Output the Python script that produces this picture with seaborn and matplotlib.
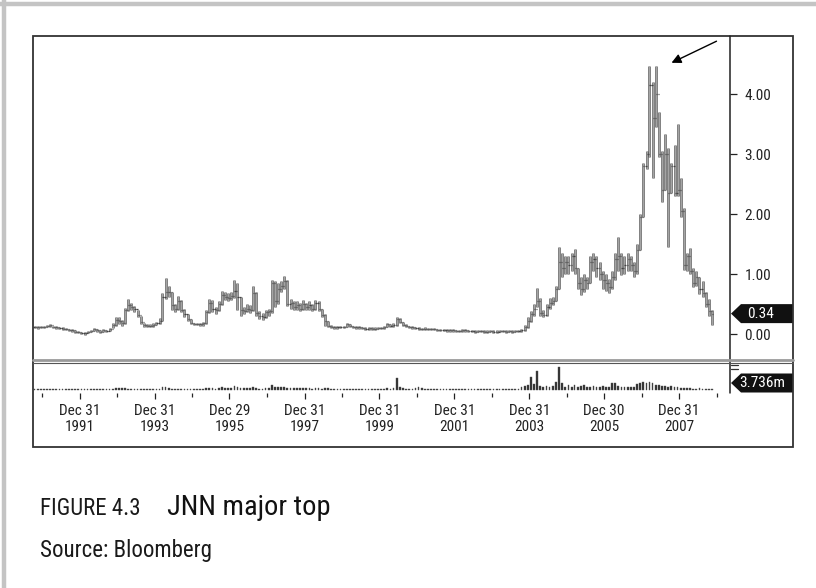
import numpy as np
import pandas as pd
import seaborn as sns
import matplotlib
matplotlib.use("Agg")
import matplotlib.pyplot as plt
import matplotlib.dates as mdates
import matplotlib.transforms as mtransforms
from matplotlib import font_manager
from matplotlib.patches import Rectangle, Polygon
from matplotlib.lines import Line2D

# monthly bars, Oct 1990 .. Nov 2008 (one row per year)
price_high = [
    0.14, 0.13, 0.14,                                                  # 1990
    0.14, 0.15, 0.17, 0.14, 0.13, 0.12, 0.11, 0.10, 0.09, 0.08, 0.06, 0.05,
    0.04, 0.03, 0.05, 0.07, 0.10, 0.08, 0.06, 0.08, 0.07, 0.10, 0.18, 0.28,
    0.28, 0.24, 0.44, 0.58, 0.52, 0.46, 0.40, 0.30, 0.18, 0.16, 0.16, 0.18,
    0.20, 0.26, 0.68, 0.93, 0.80, 0.70, 0.50, 0.63, 0.56, 0.42, 0.34, 0.25,
    0.19, 0.19, 0.18, 0.20, 0.40, 0.58, 0.56, 0.45, 0.55, 0.72, 0.70, 0.68,
    0.70, 0.90, 0.85, 0.62, 0.45, 0.50, 0.48, 0.80, 0.70, 0.38, 0.35, 0.40,
    0.42, 0.90, 0.88, 0.85, 0.88, 0.97, 0.90, 0.58, 0.55, 0.55, 0.52, 0.56,
    0.52, 0.55, 0.50, 0.56, 0.55, 0.42, 0.34, 0.22, 0.15, 0.14, 0.13, 0.14,
    0.14, 0.19, 0.17, 0.14, 0.13, 0.13, 0.12, 0.11, 0.12, 0.11, 0.11, 0.12,
    0.12, 0.14, 0.19, 0.17, 0.18, 0.28, 0.27, 0.20, 0.16, 0.14, 0.13, 0.12,
    0.11, 0.10, 0.11, 0.10, 0.10, 0.10, 0.09, 0.09, 0.09, 0.08, 0.08, 0.08,
    0.07, 0.07, 0.08, 0.08, 0.07, 0.07, 0.06, 0.07, 0.07, 0.06, 0.06, 0.07,
    0.06, 0.06, 0.06, 0.07, 0.06, 0.06, 0.06, 0.07, 0.07, 0.08, 0.15, 0.28,
    0.38, 0.50, 0.77, 0.60, 0.40, 0.50, 0.60, 0.62, 0.80, 1.45, 1.35, 1.30,
    1.30, 1.35, 1.42, 1.10, 0.95, 1.00, 0.95, 1.30, 1.35, 1.30, 1.20, 1.05,
    1.00, 0.92, 1.05, 1.35, 1.62, 1.35, 1.30, 1.35, 1.30, 1.20, 1.50, 2.00,
    2.85, 3.05, 4.47, 4.20, 4.47, 3.70, 3.05, 3.33, 3.10, 2.85, 3.15, 3.50,
    2.60, 2.10, 1.35, 1.43, 1.10, 1.05, 0.95, 0.88, 0.70, 0.58, 0.40,  # 2008
]
price_low = [
    0.10, 0.09, 0.10,
    0.10, 0.11, 0.12, 0.10, 0.09, 0.08, 0.07, 0.06, 0.05, 0.04, 0.02, 0.01,
    0.00, -0.01, 0.01, 0.03, 0.05, 0.04, 0.02, 0.04, 0.03, 0.05, 0.10, 0.14,
    0.16, 0.14, 0.17, 0.38, 0.40, 0.36, 0.28, 0.16, 0.12, 0.11, 0.11, 0.12,
    0.15, 0.17, 0.22, 0.58, 0.62, 0.40, 0.36, 0.40, 0.36, 0.28, 0.22, 0.16,
    0.15, 0.15, 0.14, 0.14, 0.17, 0.35, 0.36, 0.33, 0.38, 0.48, 0.56, 0.55,
    0.56, 0.60, 0.40, 0.30, 0.33, 0.36, 0.35, 0.38, 0.30, 0.25, 0.24, 0.26,
    0.30, 0.35, 0.45, 0.50, 0.70, 0.75, 0.46, 0.42, 0.40, 0.40, 0.38, 0.40,
    0.40, 0.40, 0.38, 0.40, 0.38, 0.28, 0.14, 0.11, 0.10, 0.09, 0.09, 0.10,
    0.10, 0.11, 0.12, 0.10, 0.09, 0.09, 0.08, 0.07, 0.07, 0.06, 0.07, 0.08,
    0.08, 0.09, 0.12, 0.12, 0.12, 0.14, 0.18, 0.14, 0.12, 0.10, 0.09, 0.08,
    0.07, 0.06, 0.07, 0.06, 0.06, 0.06, 0.05, 0.05, 0.05, 0.04, 0.04, 0.04,
    0.03, 0.03, 0.04, 0.04, 0.03, 0.03, 0.02, 0.03, 0.03, 0.02, 0.02, 0.03,
    0.02, 0.02, 0.03, 0.03, 0.02, 0.03, 0.02, 0.03, 0.03, 0.04, 0.05, 0.10,
    0.20, 0.30, 0.45, 0.30, 0.28, 0.30, 0.42, 0.48, 0.55, 0.75, 0.95, 1.00,
    1.00, 1.05, 1.00, 0.75, 0.65, 0.70, 0.75, 0.85, 1.05, 0.95, 0.90, 0.75,
    0.72, 0.68, 0.75, 0.90, 1.05, 0.98, 1.00, 1.05, 1.05, 0.95, 1.00, 1.40,
    1.95, 2.75, 2.95, 2.60, 3.45, 2.95, 2.20, 2.40, 1.45, 2.35, 2.30, 2.30,
    1.95, 1.07, 1.05, 1.00, 0.78, 0.80, 0.67, 0.62, 0.45, 0.30, 0.15,
]
price_close = [
    0.12, 0.11, 0.12,
    0.12, 0.13, 0.15, 0.12, 0.11, 0.10, 0.09, 0.08, 0.07, 0.06, 0.04, 0.03,
    0.02, 0.01, 0.03, 0.05, 0.08, 0.06, 0.04, 0.06, 0.05, 0.08, 0.15, 0.24,
    0.22, 0.18, 0.40, 0.48, 0.45, 0.42, 0.32, 0.20, 0.15, 0.14, 0.13, 0.15,
    0.18, 0.22, 0.62, 0.70, 0.70, 0.48, 0.42, 0.55, 0.40, 0.33, 0.25, 0.18,
    0.17, 0.17, 0.16, 0.18, 0.36, 0.52, 0.42, 0.40, 0.50, 0.65, 0.62, 0.60,
    0.63, 0.72, 0.62, 0.40, 0.38, 0.42, 0.40, 0.68, 0.35, 0.30, 0.28, 0.36,
    0.38, 0.85, 0.55, 0.75, 0.80, 0.88, 0.50, 0.52, 0.45, 0.48, 0.42, 0.50,
    0.45, 0.48, 0.42, 0.52, 0.42, 0.32, 0.22, 0.13, 0.12, 0.11, 0.11, 0.12,
    0.12, 0.16, 0.14, 0.12, 0.11, 0.11, 0.10, 0.09, 0.10, 0.08, 0.09, 0.10,
    0.10, 0.12, 0.16, 0.14, 0.15, 0.25, 0.20, 0.15, 0.14, 0.12, 0.11, 0.10,
    0.09, 0.08, 0.09, 0.08, 0.08, 0.08, 0.07, 0.07, 0.07, 0.06, 0.06, 0.06,
    0.05, 0.05, 0.06, 0.06, 0.05, 0.05, 0.04, 0.05, 0.05, 0.04, 0.04, 0.05,
    0.04, 0.04, 0.05, 0.05, 0.04, 0.05, 0.04, 0.05, 0.05, 0.06, 0.12, 0.22,
    0.33, 0.42, 0.55, 0.35, 0.32, 0.45, 0.52, 0.55, 0.75, 1.20, 1.10, 1.20,
    1.15, 1.30, 1.10, 0.85, 0.75, 0.90, 0.85, 1.20, 1.25, 1.10, 1.00, 0.90,
    0.85, 0.78, 0.95, 1.25, 1.30, 1.10, 1.15, 1.25, 1.15, 1.05, 1.40, 1.95,
    2.80, 3.00, 4.15, 3.60, 4.00, 3.00, 2.40, 3.00, 2.35, 2.80, 2.35, 2.40,
    2.05, 1.15, 1.30, 1.05, 0.85, 0.95, 0.75, 0.68, 0.50, 0.38, 0.34,
]
volume_m = [
    0.4, 0.5, 0.4,
    0.5, 0.6, 0.4, 0.5, 0.7, 0.5, 0.4, 0.5, 0.6, 0.5, 0.4, 0.5,
    0.5, 0.4, 0.6, 0.5, 0.5, 0.6, 0.4, 0.5, 0.5, 0.6, 0.8, 1.0,
    1.0, 0.9, 1.2, 0.8, 0.7, 0.6, 0.6, 0.5, 0.5, 0.6, 0.5, 0.6,
    0.6, 0.8, 1.4, 1.6, 1.0, 0.8, 0.7, 0.7, 0.6, 0.6, 0.5, 0.5,
    0.5, 0.5, 0.5, 0.6, 1.0, 1.3, 0.9, 0.8, 1.2, 1.4, 1.1, 1.0,
    1.2, 2.2, 1.5, 1.0, 0.9, 1.0, 1.1, 1.8, 1.0, 0.8, 0.8, 0.9,
    1.0, 2.5, 1.8, 1.6, 1.5, 1.8, 1.2, 1.0, 1.0, 1.1, 0.9, 1.0,
    0.9, 1.0, 0.8, 1.1, 0.9, 0.8, 1.0, 0.9, 0.6, 0.5, 0.5, 0.5,
    0.5, 0.8, 0.6, 0.5, 0.5, 0.4, 0.5, 0.4, 0.5, 0.4, 0.4, 0.5,
    0.5, 0.6, 1.0, 0.8, 1.2, 6.5, 1.5, 1.0, 0.8, 0.7, 0.8, 0.9,
    1.8, 1.2, 0.8, 0.7, 0.6, 0.8, 0.6, 0.5, 0.7, 0.6, 0.5, 0.6,
    0.5, 0.6, 0.5, 0.6, 0.5, 0.7, 0.5, 0.6, 0.5, 0.5, 0.6, 0.5,
    0.5, 0.4, 0.5, 0.6, 0.5, 0.5, 0.4, 0.6, 0.5, 1.5, 2.0, 2.8,
    6.9, 3.2, 10.1, 2.0, 1.6, 2.0, 1.8, 2.2, 4.3, 12.3, 3.7, 1.8,
    2.5, 1.8, 2.7, 1.5, 2.0, 2.6, 1.4, 1.8, 2.4, 1.6, 1.4, 2.0,
    1.5, 1.8, 3.5, 3.8, 2.0, 1.6, 1.5, 1.8, 1.4, 1.7, 3.2, 4.0,
    4.3, 3.6, 4.2, 3.8, 2.6, 2.8, 2.0, 2.4, 1.8, 2.2, 1.6, 1.5,
    1.2, 1.0, 0.9, 1.0, 0.8, 0.7, 1.0, 0.6, 0.8, 0.7, 0.6,
]
first_month = "1990-10-01"
last_price = 0.34
last_volume = 3.736

tick_dates = ["1991-12-31", "1993-12-31", "1995-12-29", "1997-12-31", "1999-12-31",
              "2001-12-31", "2003-12-31", "2005-12-30", "2007-12-31"]
tick_labels = ["Dec 31\n1991", "Dec 31\n1993", "Dec 29\n1995", "Dec 31\n1997", "Dec 31\n1999",
               "Dec 31\n2001", "Dec 31\n2003", "Dec 30\n2005", "Dec 31\n2007"]
minor_dates = ["1990-12-31", "1992-12-31", "1994-12-31", "1996-12-31", "1998-12-31",
               "2000-12-31", "2002-12-31", "2004-12-31", "2006-12-31", "2008-12-31"]
price_ticks = [0, 1, 2, 3, 4]

sns.set_theme(style="white")

# condensed face if one is installed, otherwise shrink Liberation Sans
names = {f.name for f in font_manager.fontManager.ttflist}
condensed = [n for n in ["Roboto Condensed", "Open Sans Condensed", "Liberation Sans Narrow",
                         "Arial Narrow"] if n in names]
if condensed:
    font = condensed[0]
    k = 1.0
else:
    font = "Liberation Sans"
    k = 0.84
plt.rcParams["font.family"] = [font, "DejaVu Sans"]

W, H = 816, 588
def fx(x):
    return x / W
def fy(y):
    return 1 - y / H

df = pd.DataFrame({"high": price_high, "low": price_low, "close": price_close, "vol": volume_m})
df["date"] = pd.date_range(first_month, periods=len(df), freq="MS") + pd.Timedelta(days=15)
df["open"] = df["close"].shift(1).fillna(df["close"].iloc[0])
xn = mdates.date2num(df["date"])

fig = plt.figure(figsize=(8.16, 5.88), dpi=100)
fig.patch.set_facecolor("white")
ax = fig.add_axes([fx(33), fy(360), fx(730) - fx(33), fy(36) - fy(360)])
axv = fig.add_axes([fx(33), fy(393), fx(730) - fx(33), fy(362) - fy(393)])

# high-low bars: thin dark outline with a lighter core, like the printed chart
ax.vlines(xn, df["low"], df["high"], color="#5a5a5a", lw=1.8)
ax.vlines(xn, df["low"], df["high"], color="#b4b4b4", lw=0.6)
ax.hlines(df["close"], xn, xn + 11, color="#444444", lw=0.9)
ax.hlines(df["open"], xn - 11, xn, color="#444444", lw=0.9)

# width is relative to the shortest month spacing (28 days)
sns.barplot(x=xn, y=df["vol"], ax=axv, native_scale=True, width=0.6,
            color="#2e2e2e", edgecolor="#555555", linewidth=0.3, saturation=1)

xlim = (mdates.date2num(pd.Timestamp("1990-10-01")), mdates.date2num(pd.Timestamp("2009-05-10")))
ax.set_xlim(xlim)
ax.set_ylim(-0.433, 4.967)
axv.set_ylim(-1.6, 14.94)
axv.set_xlabel("")
axv.set_ylabel("")

for a in (ax, axv):
    for s in a.spines.values():
        s.set_visible(False)
    a.set_facecolor("white")

ax.yaxis.tick_right()
ax.set_yticks(price_ticks)
ax.set_yticklabels([f"{v:.2f}" for v in price_ticks])
ax.tick_params(axis="y", direction="out", length=5, width=0.9, pad=5.5, labelsize=11 * k,
               colors="#222222", right=True, left=False)
ax.tick_params(axis="x", bottom=False, labelbottom=False)

axv.set_yticks([])
axv.set_xticks(mdates.date2num(pd.to_datetime(tick_dates)))
axv.set_xticklabels(tick_labels, linespacing=1.15)
axv.set_xticks(mdates.date2num(pd.to_datetime(minor_dates)), minor=True)
axv.set_xlim(xlim)
axv.tick_params(axis="x", which="major", direction="out", length=4.5, width=0.9, pad=3.5,
                labelsize=11 * k, colors="#222222", bottom=True)
axv.tick_params(axis="x", which="minor", direction="out", length=3, width=0.9, bottom=True)

# frame and panel dividers
fig.add_artist(Rectangle((fx(33), fy(447)), fx(793) - fx(33), fy(36) - fy(447),
                         transform=fig.transFigure, fill=False, lw=1.3, ec="#333333"))
fig.add_artist(Line2D([fx(730), fx(730)], [fy(36), fy(393)], transform=fig.transFigure,
                      color="#222222", lw=1.1))
fig.add_artist(Line2D([fx(33), fx(793)], [fy(359.5), fy(359.5)], transform=fig.transFigure,
                      color="#9a9a9a", lw=2.0))
fig.add_artist(Line2D([fx(33), fx(793)], [fy(362.5), fy(362.5)], transform=fig.transFigure,
                      color="#555555", lw=0.8))
for yy in (365, 369):
    fig.add_artist(Line2D([fx(731), fx(738)], [fy(yy), fy(yy)], transform=fig.transFigure,
                          color="#333333", lw=0.9))
# page border
fig.add_artist(Line2D([0, 1], [fy(3.5), fy(3.5)], transform=fig.transFigure, color="#c4c4c4", lw=3.2))
fig.add_artist(Line2D([fx(4), fx(4)], [0, 1], transform=fig.transFigure, color="#c4c4c4", lw=3.2))

# last value tags (drawn inside the axes so the text sits on top)
tp = mtransforms.blended_transform_factory(fig.transFigure, ax.transData)
hp = 9.5 / 60
ax.add_patch(Polygon([(fx(731), last_price), (fx(741), last_price + hp), (fx(793), last_price + hp),
                      (fx(793), last_price - hp), (fx(741), last_price - hp)],
                     closed=True, transform=tp, fc="#111111", ec="none", clip_on=False, zorder=5))
ax.text(fx(761), last_price, f"{last_price:.2f}", transform=tp, color="white", fontsize=11 * k,
        ha="center", va="center", clip_on=False, zorder=6)

tv = mtransforms.blended_transform_factory(fig.transFigure, axv.transData)
hv = 9.5 / 1.874
axv.add_patch(Polygon([(fx(731), last_volume), (fx(741), last_volume + hv), (fx(793), last_volume + hv),
                       (fx(793), last_volume - hv), (fx(741), last_volume - hv)],
                      closed=True, transform=tv, fc="#111111", ec="none", clip_on=False, zorder=5))
axv.text(fx(762), last_volume, f"{last_volume:.3f}m", transform=tv, color="white", fontsize=11 * k,
         ha="center", va="center", clip_on=False, zorder=6)

# arrow pointing at the top
ax.annotate("", xy=(fx(669), fy(64)), xytext=(fx(719), fy(40)), xycoords="figure fraction",
            textcoords="figure fraction",
            arrowprops=dict(arrowstyle="-|>", color="black", lw=1.0, mutation_scale=14))

# caption
fig.text(fx(40), fy(515), "FIGURE 4.3", fontsize=16.5 * k, color="#1a1a1a", va="baseline")
fig.text(fx(167), fy(515), "JNN major top", fontsize=20.5 * k, color="#111111", va="baseline")
fig.text(fx(40), fy(557), "Source: Bloomberg", fontsize=16.5 * k, color="#1a1a1a", va="baseline")

fig.savefig("out.png", dpi=100, facecolor="white")
